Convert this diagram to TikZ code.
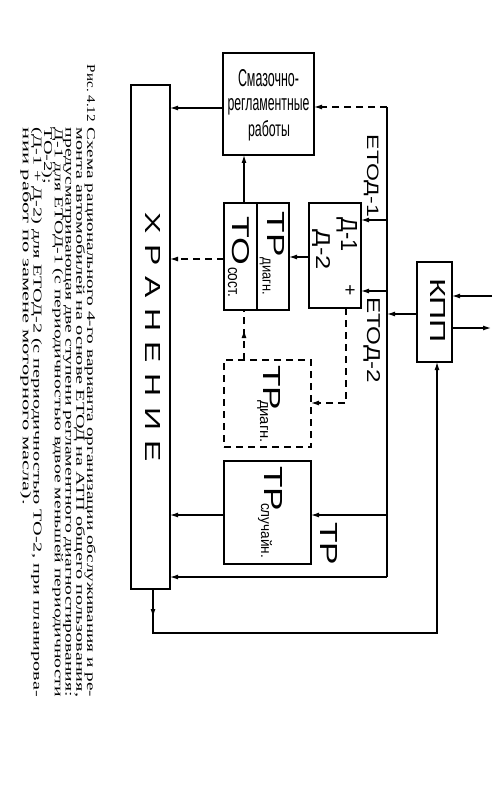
\documentclass[tikz,border=0pt]{standalone}
\usepackage{fontspec}
\setmainfont{Liberation Sans}
\newfontfamily\capfont{Liberation Serif}
\usetikzlibrary{arrows.meta,decorations.markings}
\newcommand{\fitt}[3]{\resizebox{#1pt}{#2pt}{#3}}
\newcommand{\capline}[2]{\resizebox{#1pt}{10.08pt}{\capfont\fontsize{12}{14.4}\selectfont\strut #2}}
\begin{document}
\begin{tikzpicture}[x=1pt,y=-1pt,
  box/.style={draw, line width=1.4pt, inner sep=0pt, outer sep=0pt},
  dsh/.style={dash pattern=on 7pt off 5pt},
  dbx/.style={box, dsh},
  ln/.style={line width=1.2pt},
  arr/.style={ln, -{Latex[length=8pt,width=5pt]}},
  rt/.style={rotate=-90, anchor=base west, inner sep=0pt, outer sep=0pt},
  up/.style={anchor=base, inner sep=0pt, outer sep=0pt},
  mk/.style={postaction={decorate}, decoration={markings, mark=at position #1 with {\arrow{Latex[length=8pt,width=5pt]}}}}]
\useasboundingbox[fill=white] (0,0) rectangle (492,791);

% boxes
\node[box, minimum width=39pt, minimum height=504pt] (xran) at (150.5,337) {};
\node[box, minimum width=91pt, minimum height=102pt] (smaz) at (268.5,104) {};
\node[box, minimum width=65pt, minimum height=107pt] (trto) at (256.5,256.5) {};
\node[box, minimum width=52pt, minimum height=105pt] (dbox) at (335,255.5) {};
\node[dbx, minimum width=87pt, minimum height=87pt] (trd) at (267.5,403.5) {};
\node[box, minimum width=87pt, minimum height=103pt] (trs) at (267.5,512.5) {};
\node[box, minimum width=35pt, minimum height=100pt] (kpp) at (434.5,312) {};
\draw[line width=1.4pt] ([xshift=0.5pt]trto.north) -- ([xshift=0.5pt]trto.south);

% texts
\node[up] (s1) at (268.5,87) {\fitt{61}{17}{Смазочно-}};
\node[up] (s2) at (268.5,111) {\fitt{82}{12}{регламентные}};
\node[up] (s3) at (269,137) {\fitt{42}{16}{работы}};
\node[rt] (xt) at (145,213) {\fitt{249}{15}{Х\hspace{.33em}Р\hspace{.33em}А\hspace{.33em}Н\hspace{.33em}Е\hspace{.33em}Н\hspace{.33em}И\hspace{.33em}Е}};
\node[rt] (trt) at (267,212) {\fitt{45}{17}{ТР}};
\node[rt] (trsb) at (262.5,258) {\fitt{37}{8}{диагн.}};
\node[rt] (tot) at (232,217) {\fitt{48}{17}{ТО}};
\node[rt] (tosb) at (228,267) {\fitt{30}{9}{сост.}};
\node[rt] (d1) at (341,218) {\fitt{34}{16}{Д-1}};
\node[inner sep=0pt] (pl) at (350,291) {\resizebox{11pt}{!}{+}};
\node[rt] (d2) at (316,230) {\fitt{40}{14}{Д-2}};
\node[rt] (e1) at (367,135) {\fitt{82}{11.5}{ЕТОД-1}};
\node[rt] (e2) at (367,297) {\fitt{86}{13}{ЕТОД-2}};
\node[rt] (tdt) at (263,365) {\fitt{45}{17}{ТР}};
\node[rt] (tdsb) at (260,400) {\fitt{43}{8}{диагн.}};
\node[rt] (tst) at (264,466) {\fitt{45}{18}{ТР}};
\node[rt] (tssb) at (261,503) {\fitt{55}{11}{случайн.}};
\node[rt] (trl) at (320,522) {\fitt{43}{17}{ТР}};
\node[rt] (kt) at (430,278) {\fitt{65}{15}{КПП}};

% caption
\node[rt] (c0) at (87,65) {\capline{57}{Рис.\ 4.12}};
\node[rt] (c1) at (87,128) {\capline{569}{Схема рационального 4-го варианта организации обслуживания и ре-}};
\node[rt] (c2) at (76.3,128) {\capline{569}{монта автомобилей на основе ЕТОД на АТП общего пользования,}};
\node[rt] (c3) at (65.6,128) {\capline{569}{предусматривающая две ступени регламентного диагностирования:}};
\node[rt] (c4) at (54.9,128) {\capline{569}{Д-1 для ЕТОД-1 (с периодичностью вдвое меньшей периодичности}};
\node[rt] (c5) at (44.2,128) {\capline{56}{ТО-2);}};
\node[rt] (c6) at (33.5,128) {\capline{569}{(Д-1 + Д-2) для ЕТОД-2 (с периодичностью ТО-2, при планирова-}};
\node[rt] (c7) at (22.8,128) {\capline{377}{нии работ по замене моторного масла).}};

% connectors
\coordinate (btop) at (387,107);
\coordinate (bbot) at (387,577);
\coordinate (rin) at (492,296);
\coordinate (rout) at (491,328);
\coordinate (lb) at (153,633);
\coordinate (rb) at (437,633);

\draw[arr] (smaz.west |- 0,108) -- (xran.east |- 0,108);
\draw[arr] (trto.north -| 244,0) -- (smaz.south -| 244,0);
\draw[arr] (dbox.west |- 0,257) -- (trto.east |- 0,257);
\draw[arr, dsh] (trto.west |- 0,259) -- (xran.east |- 0,259);
\draw[ln, dsh, mk=0.6] (trd.north -| 244,0) -- (trto.south -| 244,0);
\draw[arr, dsh] (dbox.south -| 346,0) |- (trd.east |- 0,403);
\draw[arr] (trs.west |- 0,515) -- (xran.east |- 0,515);
\draw[ln] (btop) -- (bbot);
\draw[arr, dsh] (btop) -- (smaz.east |- btop);
\draw[arr] (btop |- 0,220) -- (dbox.east |- 0,220);
\draw[arr] (btop |- 0,291) -- (dbox.east |- 0,291);
\draw[arr] (kpp.west |- 0,314) -- (btop |- 0,314);
\draw[arr] (btop |- 0,515) -- (trs.east |- 0,515);
\draw[arr] (bbot) -- (xran.east |- bbot);
\draw[arr] (rin) -- (kpp.east |- rin);
\draw[arr] (kpp.east |- rout) -- (rout);
\draw[arr, mk=28pt] (xran.south -| lb) -- (lb) -- (rb) -- (kpp.south -| rb);
\end{tikzpicture}
\end{document}
